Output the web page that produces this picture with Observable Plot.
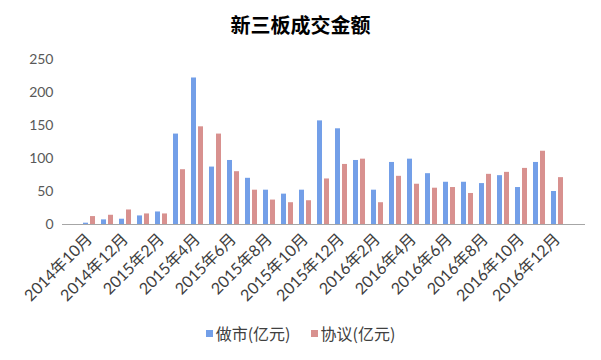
<!DOCTYPE html>
<html>
<head>
<meta charset="utf-8">
<script src="https://cdn.jsdelivr.net/npm/d3@7"></script>
<script src="https://cdn.jsdelivr.net/npm/@observablehq/plot@0.6"></script>
<style>
  html, body { margin: 0; padding: 0; background: #fff; }
  body { width: 601px; height: 360px; overflow: hidden; font-family: Lato, "Noto Sans CJK SC", sans-serif; }
  #title { height: 40px; line-height: 50px; text-align: center; font-size: 20px; font-weight: bold; color: #000; font-family: "Noto Sans CJK SC", sans-serif; }
  #chart svg { display: block; }
  #legend { display: flex; justify-content: center; align-items: center; gap: 20px; font-size: 16px; color: #404040; height: 26px; margin-top: 0px; font-family: "Noto Sans CJK SC", sans-serif; }
  .item { display: flex; align-items: center; gap: 3px; }
  .sw { width: 7px; height: 7px; display: inline-block; }
</style>
</head>
<body>
<div id="title">新三板成交金额</div>
<div id="chart"></div>
<div id="legend"></div>
<script>
const months = [
  "2014年10月","2014年11月","2014年12月","2015年1月","2015年2月","2015年3月",
  "2015年4月","2015年5月","2015年6月","2015年7月","2015年8月","2015年9月",
  "2015年10月","2015年11月","2015年12月","2016年1月","2016年2月","2016年3月",
  "2016年4月","2016年5月","2016年6月","2016年7月","2016年8月","2016年9月",
  "2016年10月","2016年11月","2016年12月"
];
const marketMaking = [2, 7, 8, 13, 19, 137, 222, 87, 97, 70, 52, 46, 52, 157, 145, 97, 52, 94, 99, 77, 64, 64, 62, 74, 56, 94, 50];
const agreement = [12, 14, 22, 16, 16, 83, 148, 137, 80, 52, 37, 33, 36, 69, 91, 99, 33, 73, 61, 55, 56, 47, 76, 79, 85, 111, 71];
const xTickLabels = ["2014年10月","2014年12月","2015年2月","2015年4月","2015年6月","2015年8月","2015年10月","2015年12月","2016年2月","2016年4月","2016年6月","2016年8月","2016年10月","2016年12月"];
const yTicks = [0, 50, 100, 150, 200, 250];
const seriesNames = ["做市(亿元)", "协议(亿元)"];
const seriesColors = ["#739fe8", "#d8918f"];

const table = months.map((m, i) => ({month: m, mm: marketMaking[i], ag: agreement[i]}));

const chart = Plot.plot({
  width: 601,
  height: 280,
  marginTop: 19,
  marginBottom: 96,
  marginLeft: 62,
  marginRight: 16,
  style: {fontFamily: "Lato, 'Noto Sans CJK SC', sans-serif", color: "#595959", background: "#fff"},
  x: {domain: months, paddingInner: 0.31, paddingOuter: 0.48},
  y: {domain: [0, 250]},
  marks: [
    Plot.barY(table, {x: "month", y: "mm", fill: seriesColors[0], insetRight: 7, insetLeft: 0}),
    Plot.barY(table, {x: "month", y: "ag", fill: seriesColors[1], insetLeft: 7, insetRight: 0}),
    Plot.ruleY([0], {stroke: "#a6a6a6", strokeWidth: 1}),
    Plot.axisY({ticks: yTicks, tickSize: 0, tickPadding: 9, fontSize: 14, label: null, fill: "#595959"}),
    Plot.axisX({ticks: xTickLabels, tickSize: 0, tickPadding: 12, tickRotate: -45, fontSize: 16, label: null, fill: "#404040"})
  ]
});
document.getElementById("chart").appendChild(chart);

const legend = document.getElementById("legend");
seriesNames.forEach((name, i) => {
  const it = document.createElement("div");
  it.className = "item";
  const sw = document.createElement("span");
  sw.className = "sw";
  sw.style.background = seriesColors[i];
  const tx = document.createElement("span");
  tx.textContent = name;
  it.appendChild(sw);
  it.appendChild(tx);
  legend.appendChild(it);
});
</script>
</body>
</html>
